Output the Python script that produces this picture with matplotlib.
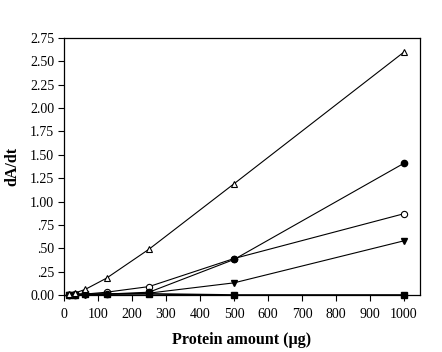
import matplotlib
matplotlib.use("Agg")
import matplotlib.pyplot as plt
from matplotlib.ticker import FixedLocator

protein = [15.625, 31.25, 62.5, 125, 250, 500, 1000]
open_triangle = [0.01, 0.02, 0.06, 0.18, 0.49, 1.19, 2.60]
filled_circle = [0.0, 0.0, 0.01, 0.01, 0.03, 0.38, 1.41]
open_circle = [0.0, 0.01, 0.01, 0.03, 0.09, 0.39, 0.87]
filled_down = [0.0, 0.0, 0.0, 0.01, 0.02, 0.13, 0.58]
filled_square = [0.0, 0.005, 0.01, 0.01, 0.012, 0.0, 0.0]

yticks = [0, 0.25, 0.5, 0.75, 1.0, 1.25, 1.5, 1.75, 2.0, 2.25, 2.5, 2.75]
ytick_labels = ["0.00", ".25", ".50", ".75", "1.00", "1.25", "1.50", "1.75",
                "2.00", "2.25", "2.50", "2.75"]
xticks = [0, 100, 200, 300, 400, 500, 600, 700, 800, 900, 1000]

plt.rcParams['font.family'] = ['Liberation Serif', 'DejaVu Serif']

fig = plt.figure(figsize=(4.42, 3.52), dpi=100)
ax = fig.add_axes([64/442, 57/352, 356/442, 257/352])

lw = 0.8
ax.plot(protein, filled_square, color='black', lw=1.2, marker='s', ms=4.5,
        mfc='black', mec='black', clip_on=False, zorder=3)
ax.plot(protein, filled_down, color='black', lw=lw, marker='v', ms=5,
        mfc='black', mec='black', clip_on=False, zorder=4)
ax.plot(protein, open_circle, color='black', lw=lw, marker='o', ms=4.5,
        mfc='white', mec='black', mew=0.8, clip_on=False, zorder=4)
ax.plot(protein, filled_circle, color='black', lw=lw, marker='o', ms=4.5,
        mfc='black', mec='black', clip_on=False, zorder=4)
ax.plot(protein, open_triangle, color='black', lw=lw, marker='^', ms=5,
        mfc='white', mec='black', mew=0.8, clip_on=False, zorder=4)

ax.set_xlim(0, 1047)
ax.set_ylim(0, 2.75)
ax.xaxis.set_major_locator(FixedLocator(xticks))
ax.set_xticklabels([str(v) for v in xticks], fontsize=10)
ax.yaxis.set_major_locator(FixedLocator(yticks))
ax.set_yticklabels(ytick_labels, fontsize=10)
ax.tick_params(direction='out', length=4, width=0.8, pad=3)
ax.tick_params(axis='x', pad=5)
for s in ax.spines.values():
    s.set_linewidth(0.9)

ax.set_xlabel("Protein amount (µg)", fontsize=11.5, fontweight='bold', labelpad=8)
ax.set_ylabel("dA/dt", fontsize=11.5, fontweight='bold', labelpad=7)

fig.savefig("out.png", dpi=100)
